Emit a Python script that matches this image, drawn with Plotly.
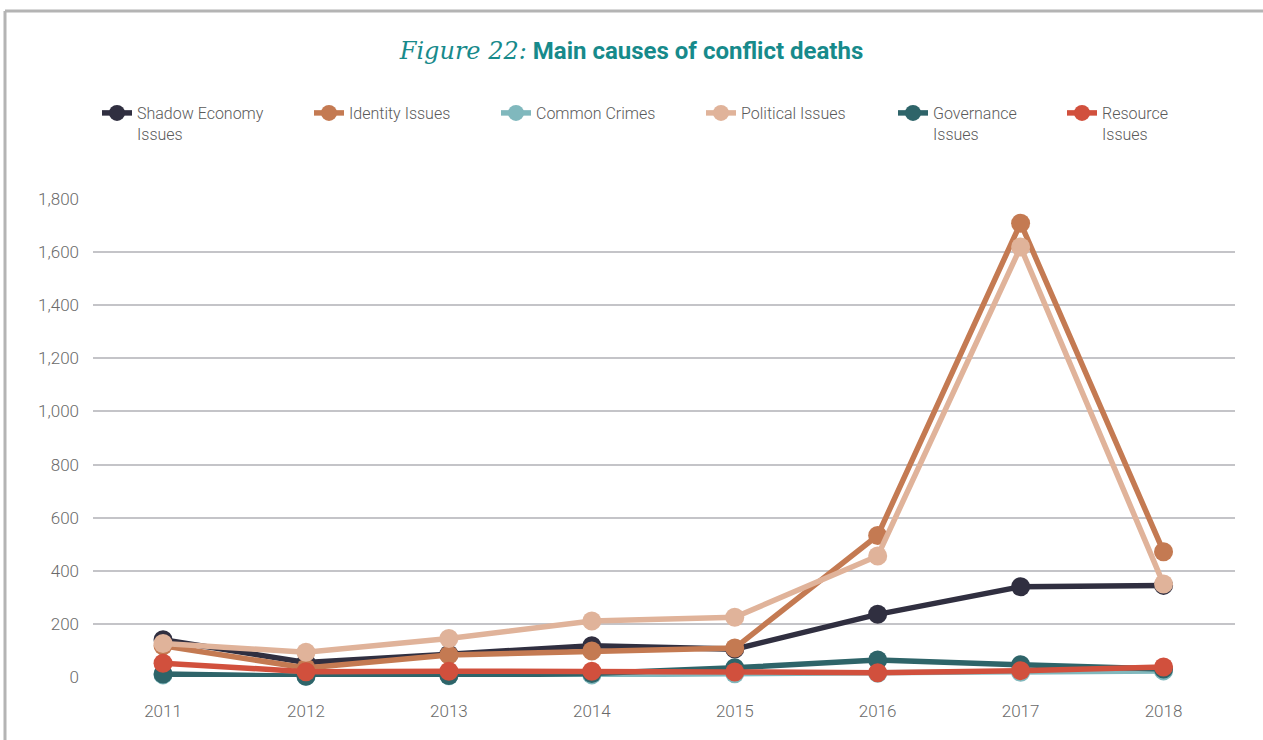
import plotly.graph_objects as go

years = [2011, 2012, 2013, 2014, 2015, 2016, 2017, 2018]
series_names = ["Shadow Economy<br>Issues", "Identity Issues", "Common Crimes",
                "Political Issues", "Governance<br>Issues", "Resource<br>Issues"]
shadow_economy = [140, 55, 86, 118, 105, 236, 340, 345]
identity = [118, 34, 83, 98, 109, 533, 1709, 472]
common_crimes = [8, 3, 5, 8, 12, 14, 18, 23]
political = [126, 93, 145, 211, 225, 456, 1619, 350]
governance = [11, 3, 6, 13, 35, 64, 46, 30]
resource = [52, 20, 22, 22, 19, 16, 24, 38]
colors = ["#302f40", "#c47a52", "#80b8bd", "#e0b39a", "#2e6469", "#d1503d"]
y_ticks = [0, 200, 400, 600, 800, 1000, 1200, 1400, 1600, 1800]

all_series = [shadow_economy, identity, common_crimes, political, governance, resource]
legend_x_px = [97, 309, 496, 701, 893, 1062]

W, H = 1263, 740
L, R, T, B = 93, 28, 199, 63

fig = go.Figure()
for i, (name, vals, col) in enumerate(zip(series_names, all_series, colors)):
    lg = "legend" if i == 0 else f"legend{i+1}"
    fig.add_trace(go.Scatter(
        x=years, y=vals, name=name, mode="lines+markers",
        line=dict(color=col, width=5.5),
        marker=dict(color=col, size=19),
        cliponaxis=False, legend=lg,
    ))

legend_font = dict(family="Roboto", size=16, color="#5a5a5a", weight=300)
for i, xp in enumerate(legend_x_px):
    key = "legend" if i == 0 else f"legend{i+1}"
    fig.update_layout(**{key: dict(
        x=xp / W, y=1 - 96 / H, xref="container", yref="container",
        xanchor="left", yanchor="top", font=legend_font, valign="top",
        bgcolor="rgba(0,0,0,0)", itemwidth=30,
    )})

tick_font = dict(family="Roboto", size=17, color="#6a6a6a", weight=300)

fig.update_layout(
    width=W, height=H,
    margin=dict(l=L, r=R, t=T, b=B, autoexpand=False),
    paper_bgcolor="white", plot_bgcolor="white",
    showlegend=True,
    title=dict(
        text="<span style='font-family:\"DejaVu Serif\";font-style:italic;font-weight:normal'>Figure 22:</span> <b>Main causes of conflict deaths</b>",
        x=0.5, xanchor="center", y=1 - 51 / H, yanchor="middle",
        font=dict(family="Roboto", size=24, color="#178a8b"),
    ),
    xaxis=dict(
        range=[2010.51, 2018.5], tickmode="array", tickvals=years,
        ticktext=[str(y) for y in years], showgrid=False, zeroline=False,
        showline=False, ticks="", tickfont=tick_font,
        ticklabelstandoff=22, automargin=False,
    ),
    yaxis=dict(
        range=[0, 1800], tickmode="array", tickvals=y_ticks, tickformat=",",
        showgrid=True, gridcolor="#c4c4c8", gridwidth=2, zeroline=False,
        showline=False, ticks="", tickfont=tick_font,
        ticklabelstandoff=13, automargin=False,
    ),
)

def px_to_paper_x(px):
    return (px - L) / (W - L - R)

def px_to_paper_y(py):
    return (H - B - py) / (H - T - B)

border = dict(color="#b4b4b4", width=3)
fig.add_shape(type="line", xref="paper", yref="paper",
              x0=px_to_paper_x(5), x1=px_to_paper_x(5),
              y0=px_to_paper_y(11), y1=px_to_paper_y(740), line=border, layer="above")
fig.add_shape(type="line", xref="paper", yref="paper",
              x0=px_to_paper_x(5), x1=px_to_paper_x(1263),
              y0=px_to_paper_y(11), y1=px_to_paper_y(11), line=border, layer="above")

fig.write_html(
    "out.html",
    post_script="document.body.style.margin='0';document.body.style.overflow='hidden';"
                "document.documentElement.style.overflow='hidden';",
    config={"displayModeBar": False},
)
